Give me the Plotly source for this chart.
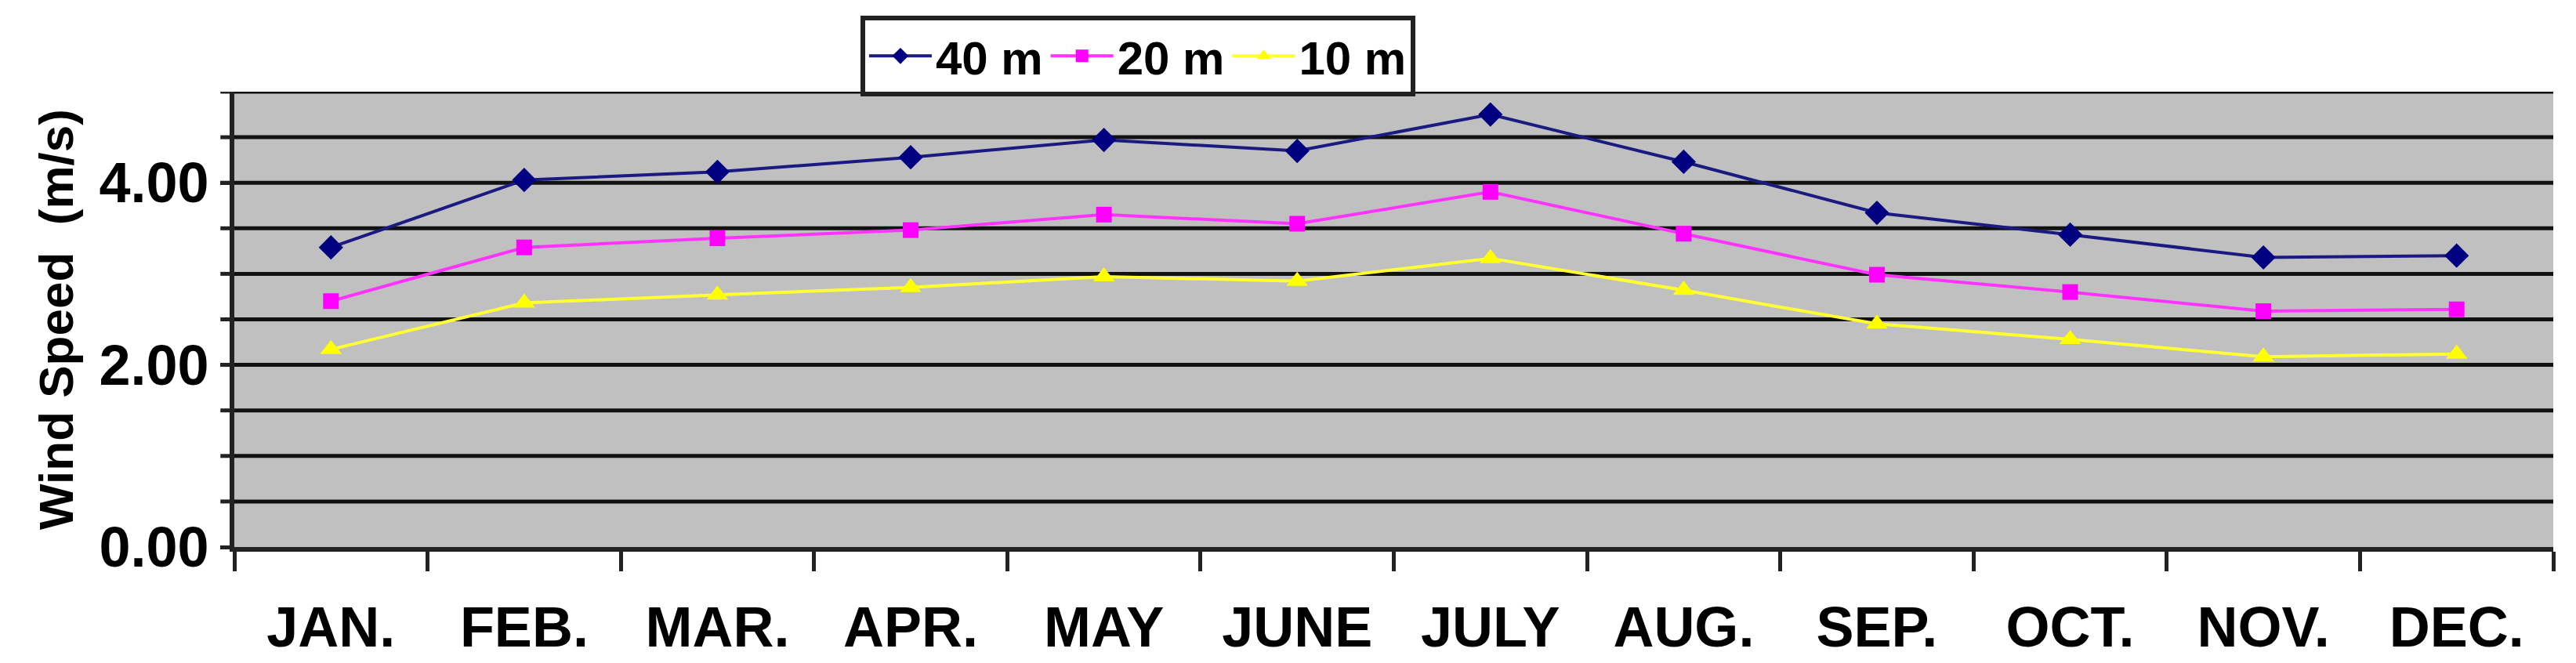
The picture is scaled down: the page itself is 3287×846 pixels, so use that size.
import plotly.graph_objects as go

months = ["JAN.", "FEB.", "MAR.", "APR.", "MAY", "JUNE", "JULY", "AUG.", "SEP.", "OCT.", "NOV.", "DEC."]
speed_40m = [3.29, 4.03, 4.12, 4.28, 4.47, 4.35, 4.75, 4.23, 3.67, 3.43, 3.18, 3.20]
speed_20m = [2.70, 3.29, 3.39, 3.48, 3.65, 3.55, 3.90, 3.44, 2.99, 2.80, 2.59, 2.61]
speed_10m = [2.17, 2.68, 2.77, 2.85, 2.97, 2.92, 3.17, 2.82, 2.45, 2.28, 2.09, 2.12]
y_ticks = [0, 2, 4]
y_tick_labels = ["0.00", "2.00", "4.00"]

fig = go.Figure()
fig.add_trace(go.Scatter(x=months, y=speed_40m, name="<b>40 m</b>", mode="lines+markers",
                         line=dict(color="#1a1a80", width=4), marker=dict(symbol="diamond", size=24, color="#000080")))
fig.add_trace(go.Scatter(x=months, y=speed_20m, name="<b>20 m</b>", mode="lines+markers",
                         line=dict(color="#ff33ff", width=4), marker=dict(symbol="square", size=20, color="#ff00ff")))
fig.add_trace(go.Scatter(x=months, y=speed_10m, name="<b>10 m</b>", mode="lines+markers",
                         line=dict(color="#ffff33", width=4), marker=dict(symbol="triangle-up", size=24, color="#ffff00")))

fig.update_layout(
    width=3287, height=846,
    margin=dict(l=291, r=37, t=88, b=156),
    paper_bgcolor="white", plot_bgcolor="#c0c0c0",
    font=dict(family="Liberation Sans, Arial", color="black"),
    legend=dict(orientation="h", x=0.27, y=0.99, xanchor="left", yanchor="bottom",
                bgcolor="white", bordercolor="#222", borderwidth=6,
                font=dict(size=60, family="Liberation Sans, Arial", color="black"),
                itemwidth=80, tracegroupgap=0),
    xaxis=dict(type="category", tickson="boundaries", ticks="outside", ticklen=25, tickwidth=5,
               tickcolor="#222", showgrid=False, showline=True, linecolor="#222", linewidth=6,
               tickfont=dict(size=72, family="Liberation Sans, Arial"), ticklabelstandoff=35,
               tickprefix="<b>", ticksuffix="</b>", range=[-0.5, 11.5]),
    yaxis=dict(range=[0, 5], tickvals=y_ticks, ticktext=["<b>%s</b>" % t for t in y_tick_labels],
               tickfont=dict(size=72, family="Liberation Sans, Arial"),
               showgrid=False, showline=True, linecolor="#222", linewidth=6,
               ticks="outside", ticklen=12, tickwidth=5, tickcolor="#222",
               title=dict(text="<b>Wind Speed  (m/s)</b>", font=dict(size=62), standoff=15)),
)
for v in [0.5 * i for i in range(1, 11)]:
    fig.add_hline(y=v, line=dict(color="#111", width=5), layer="below")
    fig.add_shape(type="line", xref="paper", x0=-0.006, x1=0, yref="y", y0=v, y1=v,
                  line=dict(color="#222", width=5))

fig.write_html("out.html")
